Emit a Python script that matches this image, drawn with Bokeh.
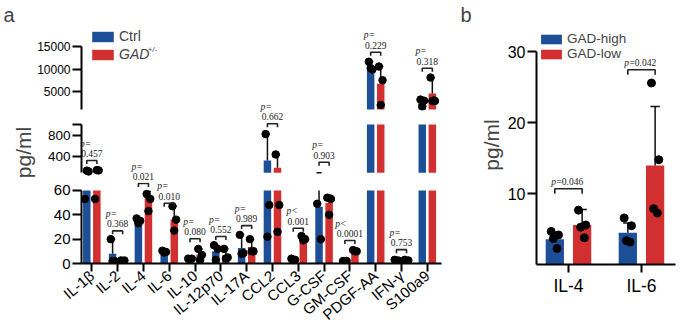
import numpy as np
from bokeh.plotting import figure
from bokeh.models import (ColumnDataSource, Range1d, LinearAxis, FixedTicker,
                          Label, Legend, LegendItem)
from bokeh.layouts import row, column
from bokeh.embed import file_html
from bokeh.resources import INLINE

FONT = "Liberation Sans"
BLUE = "#1d4f98"
RED = "#d22f30"

# ---------------- panel a data ----------------
cytokines = ["IL-1β", "IL-2", "IL-4", "IL-6", "IL-10", "IL-12p70", "IL-17A",
             "CCL2", "CCL3", "G-CSF", "GM-CSF", "PDGF-AA", "IFN-γ", "S100a9"]
ctrl_mean = [108, 8, 34, 10, 4, 10, 12.7, 327, 3, 46.5, 2, 10300, 2.4, 2900]
gad_mean = [115, 2.4, 54, 36, 7.3, 6.8, 13.5, 196, 20.3, 49.7, 10, 6700, 2.4, 4560]
ctrl_err_top = [140, 20, 37, 11, 4.5, 15.5, 23.5, 821, 3.8, 103, 2.4, 11600, 3, 3200]
gad_err_top = [155, 2.6, 59, 47, 12, 12, 20, 441, 22.5, 56, 11, 10550, 3, 8100]
ctrl_points = [[53, 125, 140], [20, 2, 2], [37, 35, 33], [10.5, 9.5, 9],
               [4, 4, 3.5], [15, 12, 3], [23.5, 8.5, 8], [821, 48, 22],
               [4, 3, 2.5], [49, 20, 70], [2, 2, 1.8], [11600, 9900, 10200],
               [3, 2.5, 2], [3200, 2950, 1700]]
gad_points = [[53, 145, 150], [2.5, 2.5, 2], [57, 53, 43], [47, 36, 27],
              [12, 7, 3], [12, 5, 4], [20, 10, 10], [441, 48, 26],
              [22.5, 20, 19], [54, 53, 40], [11, 10, 10], [10550, 7500, 2000],
              [3, 2.5, 2], [8100, 3000, 2900, 2900]]
p_prefix = ["p=", "p=", "p=", "p=", "p=", "p=", "p=", "p=", "p<", "p=", "p<", "p=", "p=", "p="]
p_values = ["0.457", "0.368", "0.021", "0.010", "0.080", "0.552", "0.989",
            "0.662", "0.001", "0.903", "0.0001", "0.229", "0.753", "0.318"]

# ---------------- panel b data ----------------
b_groups = ["IL-4", "IL-6"]
b_high_mean = [3.6, 4.5]
b_low_mean = [5.6, 14.0]
b_high_err_top = [4.5, 5.9]
b_low_err_top = [7.8, 22.3]
b_high_points = [[4.7, 4.2, 3.7, 2.3], [6.6, 5.5, 3.4, 3.2]]
b_low_points = [[7.7, 5.6, 5.3, 3.8], [25.6, 14.8, 7.9, 7.3]]
b_p_values = ["0.046", "0.042"]

# ---------------- layout (page pixels) ----------------
H = 332
W_A, W_B = 450, 235
A_LEFT, A_RIGHT = 81, 441
# bracket top positions of the p-value annotations (page px, layout only)
p_bracket_px = [160, 231, 183, 203, 239, 236.7, 225.7, 123.3, 228.3, 161.7, 240.7, 51.7, 250, 67.7]
b_bracket_px = [188.3, 69.3]

SEGS = [
    dict(name="top", lo=1000, hi=15000, ticks=[5000, 10000, 15000], fs="12px",
         c0=0, c1=122, f0=25, f1=122, anchors=(1000, 109, 15000, 46)),
    dict(name="mid", lo=100, hi=1000, ticks=[400, 800, 1000], fs="13.5px",
         c0=122, c1=182, f0=122, f1=182, anchors=(100, 172.3, 1000, 124)),
    dict(name="bot", lo=0, hi=60, ticks=[0, 20, 40, 60], fs="15px",
         c0=182, c1=H, f0=182, f1=264, anchors=(0, 264, 60, 190)),
]


def style_axis(ax, fs, tick_out=9):
    ax.axis_line_width = 2
    ax.axis_line_color = "black"
    ax.major_tick_line_width = 2
    ax.major_tick_line_color = "black"
    ax.major_tick_out = tick_out
    ax.major_tick_in = 0
    ax.minor_tick_line_color = None
    ax.major_label_text_font = FONT
    ax.major_label_text_font_size = fs
    ax.major_label_text_color = "black"
    ax.major_label_standoff = 2


def text_w(s, fs):
    w = {'.': 0.278, '=': 0.584, '<': 0.584}
    return fs * sum(w.get(c, 0.556) for c in s)


XA0, XA1 = -0.4, 13.55
PXU_A = (A_RIGHT - A_LEFT) / (XA1 - XA0)
xs = np.arange(len(cytokines), dtype=float)
OFF, BW, CAP = 0.195, 0.29, 0.1
JIT = [-0.07, 0.07, 0.0, 0.1]
groups = [(ctrl_mean, ctrl_err_top, ctrl_points, -OFF, BLUE),
          (gad_mean, gad_err_top, gad_points, OFF, RED)]

x_shared = Range1d(XA0, XA1)
figs = []
for s in SEGS:
    v0, y0, v1, y1 = s["anchors"]
    k = (y0 - y1) / (v1 - v0)
    yr = Range1d(v0 - (s["f1"] - y0) / k, v1 + (y1 - s["f0"]) / k)
    s["yr"] = yr
    is_bot = s["name"] == "bot"
    f = figure(width=W_A, height=s["c1"] - s["c0"], x_range=x_shared, y_range=yr,
               x_axis_location="below" if is_bot else None,
               output_backend="svg", toolbar_location=None,
               min_border_left=A_LEFT, min_border_right=W_A - A_RIGHT,
               min_border_top=s["f0"] - s["c0"], min_border_bottom=s["c1"] - s["f1"])
    f.grid.visible = False
    f.outline_line_color = None
    ay = f.yaxis[0]
    style_axis(ay, s["fs"], tick_out=9)
    ay.bounds = (s["lo"], s["hi"])
    ay.ticker = FixedTicker(ticks=s["ticks"])
    if s["name"] == "mid":
        ay.major_label_overrides = {1000: ""}
    s["fig"] = f
    figs.append(f)

    lo, hi = s["lo"], s["hi"]
    rends = []
    for means, errs, pts, off, color in groups:
        m = np.asarray(means, float)
        vis = m > lo
        src = ColumnDataSource(dict(x=(xs + off)[vis], top=np.minimum(m[vis], hi),
                                    bottom=np.full(int(vis.sum()), float(lo))))
        rends.append(f.vbar(x="x", top="top", bottom="bottom", width=BW, fill_color=color,
                            line_color=None, source=src))
    s["rends"] = rends
    for means, errs, pts, off, color in groups:
        m = np.asarray(means, float)
        e = np.asarray(errs, float)
        x = xs + off
        w0, w1 = np.maximum(m, lo), np.minimum(e, hi)
        wv = w1 > w0
        f.segment(x0=x[wv], y0=w0[wv], x1=x[wv], y1=w1[wv], line_color="#111111", line_width=1.5)
        cv = (e >= lo) & (e <= hi) & (e > m)
        f.segment(x0=x[cv] - CAP, y0=e[cv], x1=x[cv] + CAP, y1=e[cv],
                  line_color="#111111", line_width=1.5)
    for means, errs, pts, off, color in groups:
        px, py = [], []
        for i, vals in enumerate(pts):
            for kk, v in enumerate(vals):
                if lo <= v <= hi:
                    px.append(xs[i] + off + JIT[kk])
                    py.append(v)
        f.scatter(px, py, size=7.5, color="black")


def locate(page_y):
    for s in SEGS:
        if s["f0"] <= page_y <= s["f1"]:
            yr = s["yr"]
            d = yr.start + (s["f1"] - page_y) / (s["f1"] - s["f0"]) * (yr.end - yr.start)
            return s, d
    return SEGS[-1], SEGS[-1]["yr"].start


def locate_in(s, page_y):
    yr = s["yr"]
    return yr.start + (s["f1"] - page_y) / (s["f1"] - s["f0"]) * (yr.end - yr.start)


# p-value annotations
PFS = 9.5
DROP = 3.5
for i, bpx in enumerate(p_bracket_px):
    x = xs[i]
    s, yb = locate(bpx)
    yd = locate_in(s, bpx + DROP)
    s["fig"].line(x=[x - OFF, x - OFF, x + OFF, x + OFF], y=[yd, yb, yb, yd],
                  line_color="#222222", line_width=1.6)
    s, yv = locate(bpx - 7)
    s["fig"].text(x=[x], y=[yv], text=[p_values[i]], text_align="center",
                  text_baseline="middle", text_font_size=f"{PFS}px", text_font=FONT,
                  text_color="#222222")
    s, yp = locate(bpx - 17)
    s["fig"].text(x=[x - text_w(p_values[i], PFS) / 2 / PXU_A], y=[yp], text=[p_prefix[i]],
                  text_align="left", text_baseline="middle", text_font_size=f"{PFS}px",
                  text_font=FONT, text_font_style="italic", text_color="#222222")

top, mid, bot = figs
xa = bot.xaxis[0]
style_axis(xa, "15px", tick_out=8)
xa.ticker = FixedTicker(ticks=list(range(len(cytokines))))
xa.major_label_overrides = {i: c for i, c in enumerate(cytokines)}
xa.major_label_orientation = 0.7

# y axis title: label-only axis in the middle figure
c_lab = locate_in(SEGS[1], 155.5)
lab_ax = LinearAxis(ticker=FixedTicker(ticks=[]), axis_label="pg/ml",
                    bounds=(c_lab - 50, c_lab + 50))
lab_ax.axis_line_color = None
lab_ax.major_tick_line_color = None
lab_ax.minor_tick_line_color = None
lab_ax.major_label_text_font_size = "0px"
lab_ax.axis_label_text_font = FONT
lab_ax.axis_label_text_font_size = "21px"
lab_ax.axis_label_text_font_style = "normal"
lab_ax.axis_label_standoff = 10
mid.add_layout(lab_ax, "left")

top.title.text = "a"
top.title.align = "left"
top.title.offset = 3 - A_LEFT
top.title.standoff = 0
top.title.text_font = FONT
top.title.text_font_size = "20px"
top.title.text_font_style = "normal"

TF1 = SEGS[0]["f1"]
leg_common = dict(glyph_width=27, glyph_height=13, padding=0, margin=0, spacing=0,
                  border_line_color=None, background_fill_alpha=0, label_standoff=3,
                  label_text_font=FONT, label_text_font_size="14px", label_height=13)
r_ctrl, r_gad = SEGS[0]["rends"]
top.add_layout(Legend(items=[LegendItem(label="Ctrl", renderers=[r_ctrl])],
                      location=(8, TF1 - 44), **leg_common))
top.add_layout(Legend(items=[LegendItem(label="GAD", renderers=[r_gad])],
                      location=(8, TF1 - 62.4), label_text_font_style="italic", **leg_common))
top.add_layout(Label(x=147 - A_LEFT, y=TF1 - 53, x_units="screen", y_units="screen",
                     text="+/-", text_font=FONT, text_font_size="8px",
                     text_font_style="italic"))

# ================= panel b =================
B_LEFT, B_RIGHT, B_TOP, B_BOT = 536, 675, 25, 264
XB0, XB1 = -0.438, 1.466
PXU_B = (B_RIGHT - B_LEFT) / (XB1 - XB0)
KB = 7.1
yb_range = Range1d(0 - (B_BOT - 264.3) / KB, (264.3 - B_TOP) / KB)
pb = figure(width=W_B, height=H, x_range=Range1d(XB0, XB1), y_range=yb_range,
            output_backend="svg", toolbar_location=None,
            min_border_left=B_LEFT - W_A, min_border_right=W_A + W_B - B_RIGHT,
            min_border_top=B_TOP, min_border_bottom=H - B_BOT)
pb.grid.visible = False
pb.outline_line_color = None
pb.title.text = "b"
pb.title.align = "left"
pb.title.offset = 460 - B_LEFT
pb.title.standoff = 0
pb.title.text_font = FONT
pb.title.text_font_size = "20px"
pb.title.text_font_style = "normal"

yb = pb.yaxis[0]
style_axis(yb, "16px", tick_out=9)
yb.bounds = (0, 30)
yb.ticker = FixedTicker(ticks=[0, 10, 20, 30])
yb.axis_label = "pg/ml"
yb.axis_label_text_font = FONT
yb.axis_label_text_font_size = "21px"
yb.axis_label_text_font_style = "normal"
yb.axis_label_standoff = 2
xb = pb.xaxis[0]
style_axis(xb, "17.5px", tick_out=8)
xb.ticker = FixedTicker(ticks=[0, 1])
xb.major_label_overrides = {0: b_groups[0], 1: b_groups[1]}
xb.major_label_standoff = 3

xbs = np.arange(len(b_groups), dtype=float)
OFF_B, BW_B, CAP_B = 0.187, 0.25, 0.064
JIT_B = [-0.05, 0.05, -0.02, 0.03]
bgroups = [(b_high_mean, b_high_err_top, b_high_points, -OFF_B, BLUE, "GAD-high"),
           (b_low_mean, b_low_err_top, b_low_points, OFF_B, RED, "GAD-low")]
items = []
for means, errs, pts, off, color, lab in bgroups:
    r = pb.vbar(x=xbs + off, top=means, bottom=0, width=BW_B, fill_color=color,
                line_color=None)
    items.append(LegendItem(label=lab, renderers=[r]))
for means, errs, pts, off, color, lab in bgroups:
    m = np.asarray(means, float)
    e = np.asarray(errs, float)
    x = xbs + off
    pb.segment(x0=x, y0=m, x1=x, y1=e, line_color="#111111", line_width=1.5)
    pb.segment(x0=x - CAP_B, y0=e, x1=x + CAP_B, y1=e, line_color="#111111", line_width=1.5)
for means, errs, pts, off, color, lab in bgroups:
    px, py = [], []
    for i, vals in enumerate(pts):
        for kk, v in enumerate(vals):
            px.append(xbs[i] + off + JIT_B[kk])
            py.append(v)
    pb.scatter(px, py, size=8, color="black")


def b_data(page_y):
    return yb_range.start + (B_BOT - page_y) / (B_BOT - B_TOP) * (yb_range.end - yb_range.start)


for i, bpx in enumerate(b_bracket_px):
    x = xbs[i]
    yb0, yd = b_data(bpx), b_data(bpx + 5)
    pb.line(x=[x - OFF_B, x - OFF_B, x + OFF_B, x + OFF_B], y=[yd, yb0, yb0, yd],
            line_color="#222222", line_width=1.6)
    full_w = text_w("p=" + b_p_values[i], PFS)
    start = x - full_w / 2 / PXU_B
    yt = b_data(bpx - 6.6)
    pb.text(x=[start], y=[yt], text=["p"], text_align="left", text_baseline="middle",
            text_font_size=f"{PFS}px", text_font=FONT, text_font_style="italic",
            text_color="#222222")
    pb.text(x=[start + 0.556 * PFS / PXU_B], y=[yt], text=["=" + b_p_values[i]],
            text_align="left", text_baseline="middle", text_font_size=f"{PFS}px",
            text_font=FONT, text_color="#222222")

legb = Legend(items=items, location=(540.7 - 2.6 - B_LEFT, B_BOT - 61),
              glyph_width=26, glyph_height=12, padding=0, margin=0, spacing=0,
              border_line_color=None, background_fill_alpha=0, label_standoff=3,
              label_text_font=FONT, label_text_font_size="13.5px", label_height=12)
pb.add_layout(legb)

layout = row(column(top, mid, bot), pb)
open("out.html", "w").write(file_html(layout, INLINE))
